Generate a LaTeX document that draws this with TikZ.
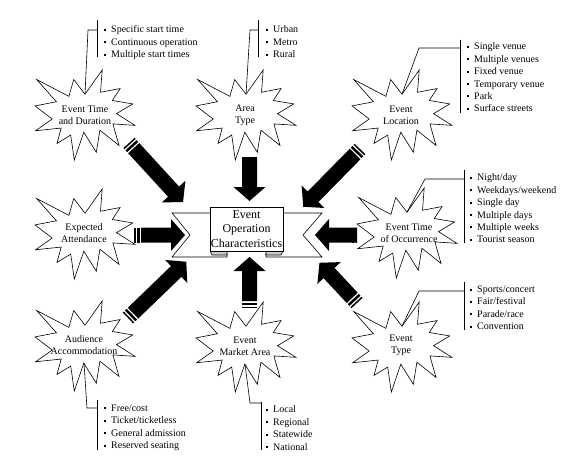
\documentclass[tikz,border=0pt]{standalone}
\usepackage{fontspec}
\setmainfont{Liberation Serif}
\definecolor{foldgray}{RGB}{204,204,204}
\tikzset{
  burstline/.style={
    draw=black,
    fill=white,
    line width=0.6pt
  },
  bursttext/.style={
    align=center,
    inner sep=0pt,
    font=\fontsize{10}{11.8}\selectfont
  },
  itemlist/.style={
    align=left,
    anchor=north west,
    inner sep=0pt,
    font=\fontsize{10}{12.4}\selectfont
  },
  calloutline/.style={
    draw=black,
    line width=0.6pt
  },
  ribbonpart/.style={
    draw=black,
    fill=white,
    line width=0.6pt
  },
  ribbonfold/.style={
    draw=black,
    fill=foldgray,
    line width=0.6pt
  },
  corebox/.style={
    draw=black,
    fill=white,
    line width=0.6pt,
    minimum width=73pt,
    minimum height=44pt,
    inner sep=0pt,
    align=center,
    font=\fontsize{12}{14.5}\selectfont
  }
}
% small square bullet of the lists
\newcommand{\bul}{\rule[2pt]{2pt}{2pt}\hspace{5pt}}
% explosion outline, 100 x 90 box given by its top-left corner
\newcommand{\burstat}[1]{%
  \path[burstline,shift={(#1)},yscale=0.9]
    (50.0,26.9) -- (67.2,0) -- (65.5,24.7) -- (85.1,20.6) -- (77.3,33.9)
    -- (97.7,37.7) -- (81.5,48.5) -- (100,61.5) -- (77.9,59.9) -- (84.0,83.8)
    -- (64.9,66.9) -- (61.3,91.4) -- (48.8,69.1) -- (39.3,100) -- (35.7,72.3)
    -- (22.0,81.6) -- (26.2,64.5) -- (0.6,67.5) -- (17.2,54.5) -- (0,39.9)
    -- (21.4,35.3) -- (1.7,10.6) -- (33.9,29.3) -- (38.7,10.6) -- cycle;}
% striped block arrow: tail, angle, length, start of the shaft
\newcommand{\blockarrow}[4]{%
  \begin{scope}[shift={(#1)},rotate=#2]
    \fill[black] (0,-7.5) rectangle (1.5,7.5);
    \fill[black] (3,-7.5) rectangle (5.5,7.5);
    \fill[black] (#4,-7.5) -- (#3-14,-7.5) -- (#3-14,-16) -- (#3,0)
      -- (#3-14,16) -- (#3-14,7.5) -- (#4,7.5) -- cycle;
  \end{scope}}

\begin{document}
\begin{tikzpicture}[x=1pt,y=-1pt]
  \useasboundingbox (0,0) rectangle (577,465);

  % Eight block arrows, all aimed at the banner in the middle.
  \blockarrow{129,143}{-47.5}{80}{7}
  \blockarrow{249.5,157}{-90}{44}{0}
  \blockarrow{360,149}{-134.5}{81}{7}
  \blockarrow{134,235}{0}{51}{7}
  \blockarrow{357,235}{180}{42}{0}
  \blockarrow{128,318}{44}{81}{7}
  \blockarrow{249.5,308}{90}{51}{7}
  \blockarrow{357,303}{133}{55}{7}

  % Banner: two notched ends, the folds, and the raised middle panel.
  \path[ribbonpart] (210,213) -- (172,213) -- (190,235) -- (172,257)
    -- (227,257) -- (227,253);
  \path[ribbonpart] (283,213) -- (322,213) -- (303,235) -- (322,257)
    -- (266,257) -- (266,253);
  \path[ribbonfold] (210,251) -- (227,251) -- (227,255) -- (212,255) -- cycle;
  \path[ribbonfold] (283,251) -- (266,251) -- (266,255) -- (281,255) -- cycle;
  \node[corebox] (core) at (246.5,229) {Event\\Operation\\Characteristics};

  % Explosions with their labels.
  \burstat{35,70}
  \node[bursttext] (evtime) at (85,115) {Event Time\\and Duration};
  \burstat{196,70}
  \node[bursttext] (areatype) at (245,115) {Area\\Type};
  \burstat{352,70}
  \node[bursttext] (evlocation) at (401,115) {Event\\Location};
  \burstat{35,189}
  \node[bursttext] (attendance) at (84,233) {Expected\\Attendance};
  \burstat{357,188}
  \node[bursttext] (occurrence) at (409,233) {Event Time\\of Occurrence};
  \burstat{35,301}
  \node[bursttext] (accommodation) at (84,345) {Audience\\Accommodation};
  \burstat{196,302}
  \node[bursttext] (marketarea) at (245,346) {Event\\Market Area};
  \burstat{352,302}
  \node[bursttext] (evtype) at (401,345) {Event\\Type};

  % Callout lines from each explosion to the bar left of its list.
  \coordinate (evtimefoot) at (85,94.2);
  \coordinate (areafoot) at (246,94.2);
  \coordinate (locationfoot) at (402,94.2);
  \coordinate (occurrencefoot) at (407,212.2);
  \coordinate (typefoot) at (402,326.2);
  \coordinate (accommodationfoot) at (84,363.2);
  \coordinate (marketfoot) at (245,364.2);

  \draw[calloutline] (evtimefoot) -- (88,30) -- (97,30);
  \draw[calloutline] (97,20) -- (97,57);
  \draw[calloutline] (areafoot) -- (250,30) -- (258,30);
  \draw[calloutline] (258,20) -- (258,57);
  \draw[calloutline] (locationfoot) -- (419,48) -- (460,48);
  \draw[calloutline] (460,40) -- (460,113);
  \draw[calloutline] (occurrencefoot) -- (425,179) -- (464,179);
  \draw[calloutline] (464,170) -- (464,243);
  \draw[calloutline] (typefoot) -- (419,291) -- (464,291);
  \draw[calloutline] (464,282) -- (464,330);
  \draw[calloutline] (accommodationfoot) -- (87,408) -- (97,408);
  \draw[calloutline] (97,400) -- (97,450);
  \draw[calloutline] (marketfoot) -- (250,403) -- (261,403);
  \draw[calloutline] (261,402) -- (261,450);

  % Lists of characteristics.
  \node[itemlist] (evtimelist) at (104,25.7)
    {\bul Specific start time\\\bul Continuous operation\\\bul Multiple start times};
  \node[itemlist] (arealist) at (266,25.7)
    {\bul Urban\\\bul Metro\\\bul Rural};
  \node[itemlist] (locationlist) at (467,42.7)
    {\bul Single venue\\\bul Multiple venues\\\bul Fixed venue\\\bul Temporary venue\\\bul Park\\\bul Surface streets};
  \node[itemlist] (occurrencelist) at (470,173.7)
    {\bul Night/day\\\bul Weekdays/weekend\\\bul Single day\\\bul Multiple days\\\bul Multiple weeks\\\bul Tourist season};
  \node[itemlist] (typelist) at (470,285.7)
    {\bul Sports/concert\\\bul Fair/festival\\\bul Parade/race\\\bul Convention};
  \node[itemlist] (accommodationlist) at (104,404.7)
    {\bul Free/cost\\\bul Ticket/ticketless\\\bul General admission\\\bul Reserved seating};
  \node[itemlist] (marketlist) at (266,405.7)
    {\bul Local\\\bul Regional\\\bul Statewide\\\bul National};

\end{tikzpicture}
\end{document}
